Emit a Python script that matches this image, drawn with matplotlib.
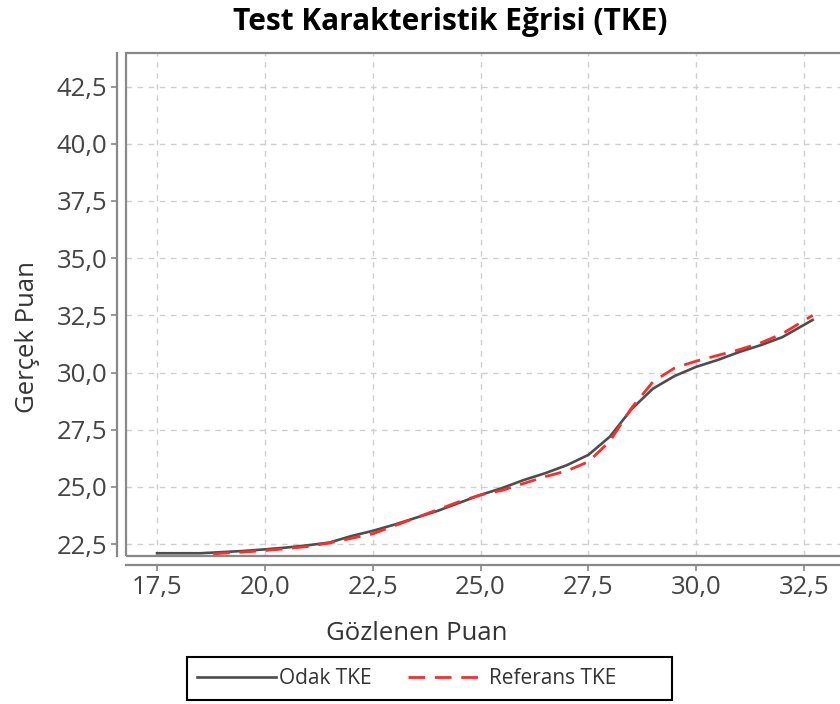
import matplotlib
matplotlib.use("Agg")
import matplotlib.pyplot as plt
from matplotlib.patches import Rectangle
from matplotlib.ticker import FuncFormatter, MultipleLocator

# Odak TKE (focal group) - observed score vs true score
odak_x = [17.5, 18.0, 18.5, 19.0, 19.5, 20.0, 20.5, 21.0, 21.5, 22.0, 22.5,
          23.0, 23.5, 24.0, 24.5, 25.0, 25.5, 26.0, 26.5, 27.0, 27.5, 28.0,
          28.5, 29.0, 29.5, 30.0, 30.5, 31.0, 31.5, 32.0, 32.7]
odak_y = [22.1, 22.1, 22.1, 22.15, 22.2, 22.27, 22.35, 22.45, 22.57, 22.85, 23.08,
          23.35, 23.65, 23.95, 24.3, 24.65, 24.95, 25.3, 25.6, 25.95, 26.4, 27.2,
          28.4, 29.3, 29.85, 30.25, 30.55, 30.9, 31.2, 31.55, 32.3]

# Referans TKE (reference group)
ref_x = [18.8, 19.0, 19.5, 20.0, 20.5, 21.0, 21.5, 22.0, 22.5, 23.0, 23.5,
         24.0, 24.5, 25.0, 25.5, 26.0, 26.5, 27.0, 27.5, 28.0, 28.5, 29.0,
         29.5, 30.0, 30.5, 31.0, 31.5, 32.0, 32.7]
ref_y = [22.07, 22.1, 22.15, 22.22, 22.3, 22.4, 22.55, 22.75, 22.95, 23.3, 23.65,
         24.0, 24.35, 24.65, 24.85, 25.15, 25.45, 25.7, 26.1, 27.0, 28.45, 29.6,
         30.2, 30.5, 30.75, 31.0, 31.3, 31.7, 32.5]

plt.rcParams['font.family'] = ['Open Sans', 'DejaVu Sans']

W, H = 840, 704
fig = plt.figure(figsize=(W / 100, H / 100), dpi=100)
ax = fig.add_axes([126 / W, 1 - 556 / H, (845 - 126) / W, (556 - 53) / H])

ax.plot(odak_x, odak_y, color="#4d4d4d", lw=1.9, label="Odak TKE", zorder=3)
ax.plot(ref_x, ref_y, color="#ff2a2a", lw=2, linestyle=(0, (6, 3.5)),
        label="Referans TKE", zorder=4)

ax.set_xlim(16.78, 33.45)
ax.set_ylim(21.98, 43.97)
ax.xaxis.set_major_locator(MultipleLocator(2.5))
ax.yaxis.set_major_locator(MultipleLocator(2.5))
fmt = FuncFormatter(lambda v, p: f"{v:.1f}".replace(".", ","))
ax.xaxis.set_major_formatter(fmt)
ax.yaxis.set_major_formatter(fmt)

ax.grid(True, color="#cfcfcf", lw=1, linestyle=(0, (4, 4)))

# offset axis lines, plot area framed by its own border
for s in ["top", "right"]:
    ax.spines[s].set_visible(False)
for s in ["left", "bottom"]:
    ax.spines[s].set_position(("outward", 6.5))
    ax.spines[s].set_color("#888888")
    ax.spines[s].set_linewidth(1.6)
ax.add_patch(Rectangle((0, 0), 1, 1, transform=ax.transAxes, fill=False,
                       edgecolor="#888888", lw=1.6, clip_on=False, zorder=5))

ax.tick_params(direction="out", length=4, width=1.2, color="#888888",
               labelcolor="#444444", labelsize=18.5, pad=3)

fig.text(450 / W, 1 - 22 / H, "Test Karakteristik Eğrisi (TKE)", ha="center",
         va="center", fontsize=21.5, fontweight="bold", color="black")
fig.text(28 / W, 1 - 337 / H, "Gerçek Puan", rotation=90, ha="center",
         va="center", fontsize=18.5, color="#333333")
fig.text(417 / W, 1 - 633 / H, "Gözlenen Puan", ha="center", va="center",
         fontsize=18.5, color="#333333")

# legend box is wider than its items (extra space on the right)
fig.add_artist(Rectangle((187 / W, 1 - 700 / H), (672 - 187) / W, 43 / H,
                         transform=fig.transFigure, fill=False,
                         edgecolor="black", lw=1.5))
leg = fig.legend(loc="center left", bbox_to_anchor=(197 / W, 1 - 679 / H), ncol=2,
                 fontsize=15, frameon=False, handlelength=3.8,
                 handletextpad=0.12, columnspacing=1.75, borderpad=0,
                 borderaxespad=0)
for t in leg.get_texts():
    t.set_color("#333333")

fig.savefig("out.png", dpi=100)
